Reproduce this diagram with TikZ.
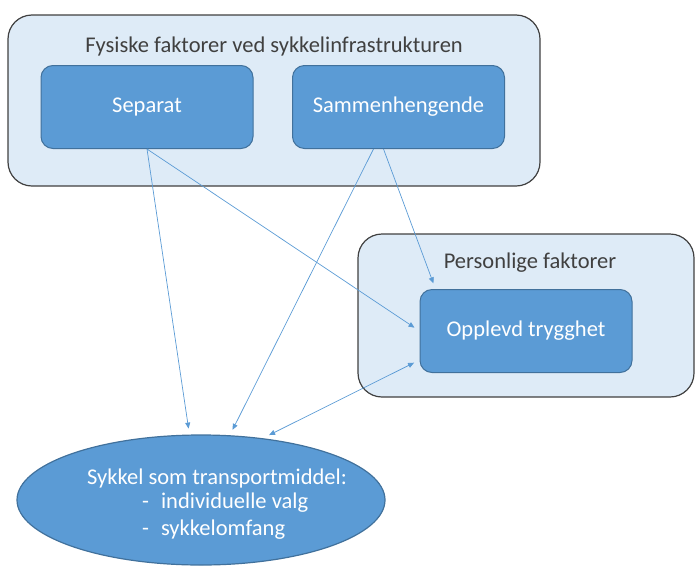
\documentclass[tikz,border=0pt]{standalone}
\usepackage{fontspec}
\setmainfont{Carlito}
\usetikzlibrary{arrows.meta, shapes.geometric, positioning}

\definecolor{groupfill}{HTML}{DEEBF7}
\definecolor{groupline}{HTML}{404040}
\definecolor{factorfill}{HTML}{5B9BD5}
\definecolor{factorline}{HTML}{41719C}

\begin{document}
\begin{tikzpicture}[x=1pt, y=-1pt,
            % Style for the two light group boxes
            group/.style={draw=groupline, fill=groupfill, line width=1.2pt, rounded corners=24pt, outer sep=0},
            % Style for the blue factor boxes inside the groups
            factor/.style={draw=factorline, fill=factorfill, line width=1pt, rounded corners=12pt,
                minimum width=212pt, minimum height=83pt, text=white, font=\fontsize{22.5}{27}\selectfont},
            % Style for the group headings
            heading/.style={text=groupline, font=\fontsize{22.5}{27}\selectfont},
            % Style for the text in the ellipse
            outcome/.style={text=white, font=\fontsize{22.5}{27}\selectfont, inner sep=0},
            % Style for the thin arrows
            link/.style={draw=factorfill, line width=0.7pt, -{Triangle[length=6pt,width=5pt]}, shorten >=6pt}
        ]
        \useasboundingbox (0,0) rectangle (695,565);

        % --- Physical factors ---
        \node[group, minimum width=532pt, minimum height=171pt] (fysiske) at (274,100.5) {};
        \node[heading] (fysisketittel) at (274,46) {Fysiske faktorer ved sykkelinfrastrukturen};
        \node[factor] (separat) at (147,107) {Separat};
        \node[factor] (sammen) at (398.5,107) {Sammenhengende};

        % --- Personal factors ---
        \node[group, minimum width=336pt, minimum height=163pt] (personlige) at (526,315.5) {};
        \node[heading] (personligetittel) at (530,263) {Personlige faktorer};
        \node[factor] (opplevd) at (526,331) {Opplevd trygghet};

        % --- Outcome ---
        \node[ellipse, draw=factorline, fill=factorfill, line width=1.2pt,
              minimum width=368pt, minimum height=130pt] (sykkel) at (201,500) {};
        \node[outcome] (sykkeltekst) at (217,478) {Sykkel som transportmiddel:};
        \node[outcome, anchor=west] (valg) at (142,503) {-\hspace{12pt}individuelle valg};
        \node[outcome, anchor=west] (omfang) at (142,530) {-\hspace{12pt}sykkelomfang};

        % --- Arrows ---
        \draw[link] (separat.south) -- (sykkel.100);
        \draw[link] (separat.south) -- (opplevd.west);
        \draw[link] ([xshift=-25pt]sammen.south) -- (sykkel.66);
        \draw[link] ([xshift=-15pt]sammen.south) -- ([xshift=16pt]opplevd.north west);
        \draw[link, {Triangle[length=6pt,width=5pt]}-{Triangle[length=6pt,width=5pt]}, shorten <=7pt]
            (sykkel.45) -- ([yshift=-29pt]opplevd.west);

\end{tikzpicture}
\end{document}
